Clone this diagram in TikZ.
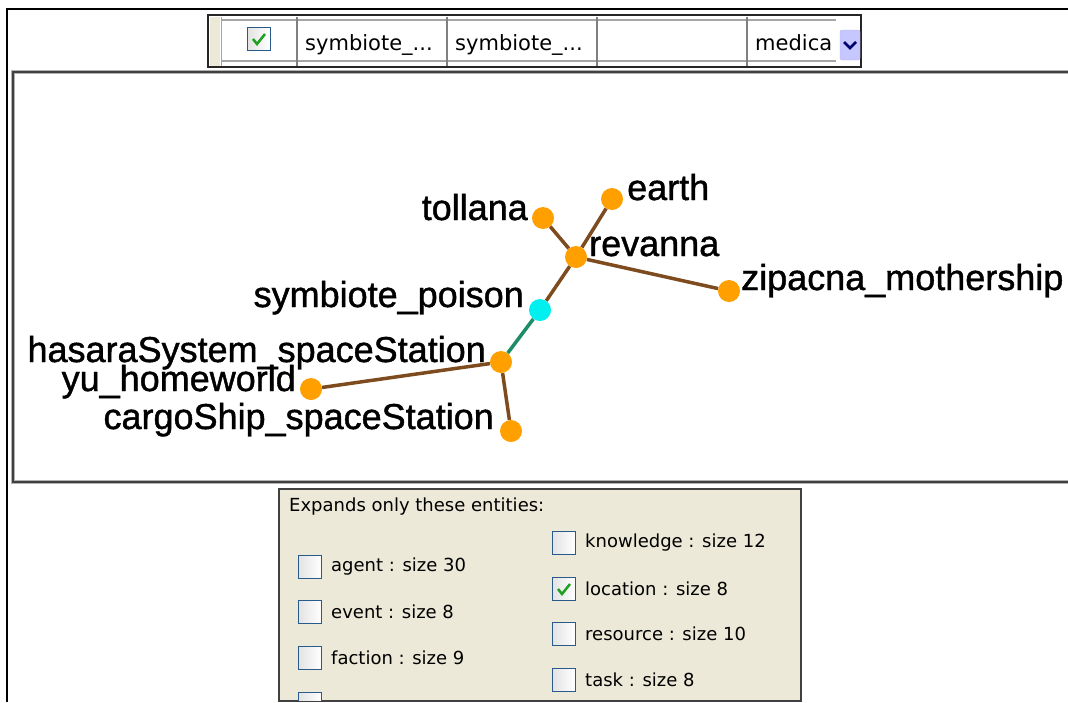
\documentclass[tikz,border=0pt]{standalone}
\usepackage{fontspec}
\setmainfont{Liberation Sans}
\newfontfamily\guifont{DejaVu Sans}
\newfontfamily\graphfont[FakeBold=1.2]{Liberation Sans}
\usepackage{tikz}

\definecolor{edgebrown}{RGB}{125,75,30}
\definecolor{edgegreen}{RGB}{30,140,100}
\definecolor{dotorange}{RGB}{255,160,0}
\definecolor{dotcyan}{RGB}{0,240,240}
\definecolor{panelbeige}{RGB}{236,233,216}
\definecolor{boxblue}{RGB}{40,90,140}
\definecolor{tickgreen}{RGB}{33,161,33}

\begin{document}
\begin{tikzpicture}[x=1pt,y=-1pt,
    dot/.style={circle,fill=dotorange,minimum size=22pt,inner sep=0pt},
    lbl/.style={font=\graphfont\fontsize{36}{40}\selectfont,inner sep=0pt},
    link/.style={draw=edgebrown,line width=3.5pt},
    gui/.style={font=\guifont\fontsize{18}{20}\selectfont,inner sep=0pt},
    tickbox/.style={draw=boxblue,line width=1.5pt,minimum size=23pt,inner sep=0pt,
      left color=gray!22,right color=white},
    tick/.style={draw=tickgreen,line width=2.5pt}]
  \useasboundingbox (0,0) rectangle (1068,702);
  \fill[white] (0,0) rectangle (1068,702);
  % outer frame
  \draw[line width=2pt] (7,702) -- (7,9) -- (1068,9);

  % table row
  \draw[fill=white,draw=black!85,line width=2.5pt] (208,15) rectangle (861,67);
  \fill[panelbeige] (209.5,16.5) rectangle (220,65.5);
  \draw[gray!70,line width=1.5pt] (221,20) -- (836,20) (221,61) -- (836,61);
  \draw[blue!25!gray!60,line width=1pt] (221,16.5) -- (221,65.5);
  \foreach \x in {297,447,597,747} {
    \draw[gray,line width=1.5pt] (\x,16.5) -- (\x,65.5);
  }
  \node[tickbox] (rowcheck) at (259,39) {};
  \draw[tick] (rowcheck.center) ++(-6,0) -- ++(4,5) -- ++(8,-10);
  \node[gui,font=\guifont\fontsize{21}{24}\selectfont,anchor=base west] (colA) at (305,50) {symbiote\_...};
  \node[gui,font=\guifont\fontsize{21}{24}\selectfont,anchor=base west] (colB) at (455,50) {symbiote\_...};
  \node[gui,font=\guifont\fontsize{21}{24}\selectfont,anchor=base west] (colE) at (755,50) {medica};
  \node[draw=blue!30!white,fill=blue!22!white,rounded corners=2pt,minimum width=20pt,minimum height=30pt,inner sep=0pt] (drop) at (850,45) {};
  \draw[draw=blue!45!black,line width=2.5pt] (drop.center) ++(-6,-3) -- ++(6,6) -- ++(6,-6);

  % graph panel
  \draw[gray!60,line width=4pt] (13,72) rectangle (1090,482);
  \draw[black!75,line width=2pt] (13,72) rectangle (1090,482);

  \node[dot] (tollana) at (543,218) {};
  \node[dot] (earth) at (612,199) {};
  \node[dot] (revanna) at (576,257) {};
  \node[dot] (zipacna) at (729,291) {};
  \node[dot,fill=dotcyan] (poison) at (540,310) {};
  \node[dot] (hasara) at (501,362) {};
  \node[dot] (yu) at (311,389) {};
  \node[dot] (cargo) at (511,431) {};

  \draw[link] (tollana) -- (revanna);
  \draw[link] (earth) -- (revanna);
  \draw[link] (revanna) -- (zipacna);
  \draw[link] (revanna) -- (poison);
  \draw[link,draw=edgegreen] (poison) -- (hasara);
  \draw[link] (hasara) -- (yu);
  \draw[link] (hasara) -- (cargo);

  \node[lbl,anchor=base east] (tollanaL) at (528,220) {tollana};
  \node[lbl,anchor=base west] (earthL) at (627,200) {earth};
  \node[lbl,anchor=base west] (revannaL) at (589,256) {revanna};
  \node[lbl,anchor=base west] (zipacnaL) at (741,290) {zipacna\_mothership};
  \node[lbl,anchor=base east] (poisonL) at (524,307) {symbiote\_poison};
  \node[lbl,anchor=base east] (hasaraL) at (486,362) {hasaraSystem\_spaceStation};
  \node[lbl,anchor=base east] (yuL) at (296,391) {yu\_homeworld};
  \node[lbl,anchor=base east] (cargoL) at (494,429) {cargoShip\_spaceStation};

  % entity filter panel
  \draw[fill=panelbeige,draw=black!75,line width=2pt] (279,489) rectangle (801,701);
  \node[gui,anchor=west] (title) at (289,507) {Expands only these entities:};
  \foreach \n/\y/\t in {agent/567/agent : size 30,event/612/event : size 8,faction/658/faction : size 9} {
    \node[tickbox] (\n) at (310,\y) {};
    \node[gui,anchor=west] (\n L) at (331,\y) {\t};
  }
  \foreach \n/\y/\t in {knowledge/543/knowledge : size 12,location/589/location : size 8,resource/634/resource : size 10,task/680/task : size 8} {
    \node[tickbox] (\n) at (564,\y) {};
    \node[gui,anchor=west] (\n L) at (585,\y) {\t};
  }
  \draw[tick] (location.center) ++(-6,0) -- ++(4,5) -- ++(8,-10);
  \begin{scope}
    \clip (280,490) rectangle (800,700);
    \node[tickbox] (more) at (310,704) {};
  \end{scope}
\end{tikzpicture}
\end{document}
